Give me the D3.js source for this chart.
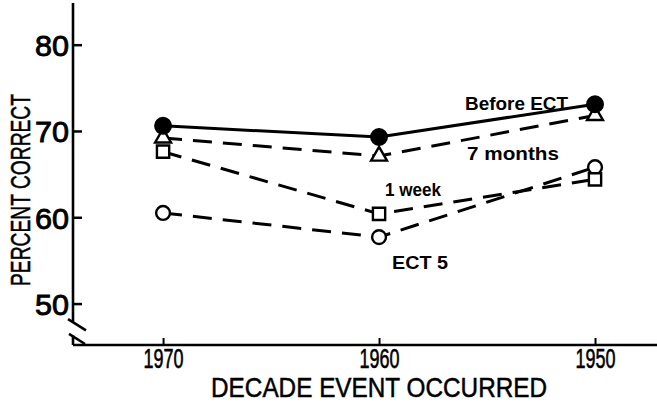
<!DOCTYPE html>
<html>
<head>
<meta charset="utf-8">
<script src="https://cdn.jsdelivr.net/npm/d3@7"></script>
<style>
  html, body { margin: 0; padding: 0; background: #fff; }
  svg { display: block; }
  text { font-family: "Liberation Sans", Arial, sans-serif; fill: #000; }
</style>
</head>
<body>
<div id="chart"></div>
<script>

// Data
var decades = [1970, 1960, 1950];
var beforeECT = [70.6, 69.3, 73.1];
var sevenMonths = [69.2, 67.1, 71.8];
var oneWeek = [67.6, 60.4, 64.4];
var ect5 = [60.5, 57.7, 65.8];
var yTicks = [50, 60, 70, 80];
var seriesNames = ['Before ECT', '7 months', '1 week', 'ECT 5'];

function ect_chart( _id ) {

  var that = this;
  var id = _id;

  var widthCont = 657,
      heightCont = 410,
      margin = {top: 3, right: 0, bottom: 65, left: 73},
      width, height;

  var svg, g, x, y;

  that.init = function() {

    width = widthCont - margin.left - margin.right;
    height = heightCont - margin.top - margin.bottom;

    svg = d3.select(id).append('svg')
      .attr('width', widthCont)
      .attr('height', heightCont);

    g = svg.append('g')
      .attr('transform', 'translate(' + margin.left + ',' + margin.top + ')');

    // decades run backwards, 1970 on the left
    x = d3.scaleLinear()
      .domain([1974.17, 1947.13])
      .range([0, width]);

    y = d3.scaleLinear()
      .domain([45.2, 84.83])
      .range([height, 0]);

    drawAxes();
    drawSeries();

    return that;
  };

  // lettering in the original is heavier than a plain regular face
  var heavy = function(sel, w) {
    sel.attr('stroke', '#000').attr('stroke-width', w);
  };

  var drawAxes = function() {

    // y axis, ticks pointing inward
    var yAxis = g.append('g')
      .call(d3.axisLeft(y).tickValues(yTicks).tickSizeInner(-9).tickSizeOuter(0).tickPadding(4));

    yAxis.select('.domain').remove();
    yAxis.selectAll('.tick line').attr('stroke', '#000').attr('stroke-width', 2.5);
    yAxis.selectAll('.tick text')
      .attr('font-size', 30)
      .attr('dy', '0.36em')
      .attr('textLength', 34)
      .attr('lengthAdjust', 'spacingAndGlyphs')
      .call(heavy, 0.9);

    // x axis
    var xAxis = g.append('g')
      .attr('transform', 'translate(0,' + height + ')')
      .call(d3.axisBottom(x).tickValues(decades).tickFormat(d3.format('d')).tickSizeInner(-7).tickSizeOuter(0).tickPadding(4));

    xAxis.select('.domain').remove();
    xAxis.selectAll('.tick line').attr('stroke', '#000').attr('stroke-width', 2);
    xAxis.selectAll('.tick text')
      .attr('font-size', 27)
      .attr('textLength', 40)
      .attr('lengthAdjust', 'spacingAndGlyphs')
      .call(heavy, 0.6);

    // axis lines with the break near the origin
    var axisLines = [
      [[0, 0], [0, y(47.9)]],
      [[0, y(46.3)], [0, height]],
      [[0, height], [width, height]],
      [[-5, y(48.2)], [13, y(46.9)]],
      [[-4, y(46.5)], [12, height - 1]]
    ];

    g.selectAll('.axis-line')
      .data(axisLines)
      .enter().append('line')
      .attr('class', 'axis-line')
      .attr('x1', function(d){ return d[0][0]; })
      .attr('y1', function(d){ return d[0][1]; })
      .attr('x2', function(d){ return d[1][0]; })
      .attr('y2', function(d){ return d[1][1]; })
      .attr('stroke', '#000')
      .attr('stroke-width', 2.6);

    // titles
    svg.append('text')
      .attr('transform', 'translate(30,' + 190 + ') rotate(-90)')
      .attr('text-anchor', 'middle')
      .attr('font-size', 28)
      .attr('textLength', 192)
      .attr('lengthAdjust', 'spacingAndGlyphs')
      .text('PERCENT CORRECT')
      .call(heavy, 0.5);

    svg.append('text')
      .attr('x', margin.left + x(1960))
      .attr('y', 397)
      .attr('text-anchor', 'middle')
      .attr('font-size', 28)
      .attr('textLength', 336)
      .attr('lengthAdjust', 'spacingAndGlyphs')
      .text('DECADE EVENT OCCURRED')
      .call(heavy, 0.5);
  };

  var drawSeries = function() {

    var series = [
      {name: seriesNames[0], values: beforeECT, dash: null, marker: 'dot'},
      {name: seriesNames[1], values: sevenMonths, dash: '19,11', marker: 'triangle'},
      {name: seriesNames[2], values: oneWeek, dash: '19,11', marker: 'square'},
      {name: seriesNames[3], values: ect5, dash: '19,11', marker: 'circle'}
    ];

    var line = d3.line()
      .x(function(d, i){ return x(decades[i]); })
      .y(function(d){ return y(d); });

    g.selectAll('.series')
      .data(series)
      .enter().append('path')
      .attr('class', 'series')
      .attr('d', function(d){ return line(d.values); })
      .attr('fill', 'none')
      .attr('stroke', '#000')
      .attr('stroke-width', 3)
      .attr('stroke-dasharray', function(d){ return d.dash; });

    var symbols = {
      dot: d3.symbol(d3.symbolCircle, 190),
      triangle: d3.symbol(d3.symbolTriangle, 110),
      square: d3.symbol(d3.symbolSquare, 150),
      circle: d3.symbol(d3.symbolCircle, 150)
    };

    // markers, open ones are filled white so the lines stop at them
    series.slice().reverse().forEach(function(s){
      g.selectAll(null)
        .data(s.values)
        .enter().append('path')
        .attr('transform', function(d, i){ return 'translate(' + x(decades[i]) + ',' + y(d) + ')'; })
        .attr('d', symbols[s.marker])
        .attr('fill', s.marker === 'dot' ? '#000' : '#fff')
        .attr('stroke', '#000')
        .attr('stroke-width', 2.4);
    });

    // series labels
    var labels = [
      {text: seriesNames[0], x: 465, y: 110, size: 18, len: 103},
      {text: seriesNames[1], x: 467, y: 160, size: 18, len: 92},
      {text: seriesNames[2], x: 385, y: 196, size: 18, len: 56},
      {text: seriesNames[3], x: 392, y: 269, size: 18, len: 56}
    ];

    svg.selectAll('.series-label')
      .data(labels)
      .enter().append('text')
      .attr('class', 'series-label')
      .attr('x', function(d){ return d.x; })
      .attr('y', function(d){ return d.y; })
      .attr('font-size', function(d){ return d.size; })
      .attr('font-weight', 'bold')
      .attr('textLength', function(d){ return d.len; })
      .attr('lengthAdjust', 'spacingAndGlyphs')
      .text(function(d){ return d.text; });
  };

  return that;
}

var chart = new ect_chart('#chart');
chart.init();

</script>
</body>
</html>
